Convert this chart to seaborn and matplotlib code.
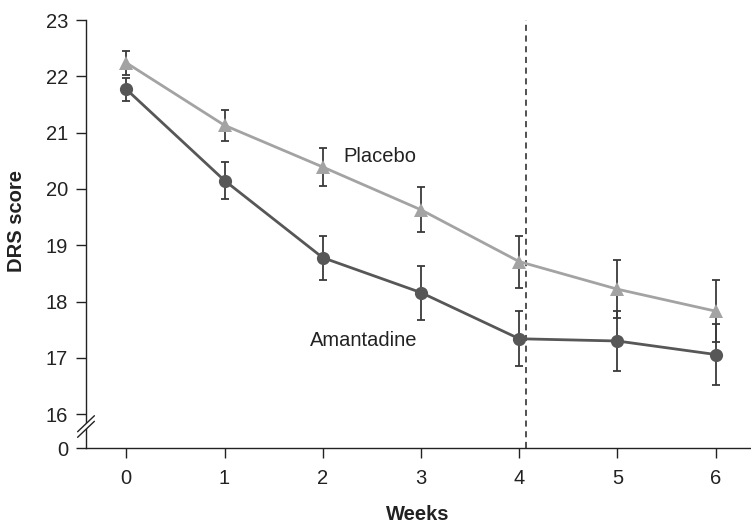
import matplotlib
matplotlib.use("Agg")
import matplotlib.pyplot as plt
import seaborn as sns
import pandas as pd
import numpy as np

weeks = [0, 1, 2, 3, 4, 5, 6]
placebo = [22.24, 21.13, 20.39, 19.63, 18.71, 18.22, 17.83]
placebo_err = [0.21, 0.28, 0.33, 0.40, 0.46, 0.52, 0.55]
amantadine = [21.77, 20.15, 18.78, 18.16, 17.34, 17.30, 17.06]
amantadine_err = [0.20, 0.33, 0.39, 0.48, 0.49, 0.54, 0.55]
y_ticks = [16, 17, 18, 19, 20, 21, 22, 23]
y_break_value = 15.4
y_break_label = "0"
cut_week = 4.07

sns.set_theme(style="ticks")
plt.rcParams['font.family'] = ['Liberation Sans', 'DejaVu Sans']

FS = 14.5

df = pd.DataFrame({
    "Weeks": weeks * 2,
    "DRS": placebo + amantadine,
    "Group": ["Placebo"] * len(weeks) + ["Amantadine"] * len(weeks),
})

fig = plt.figure(figsize=(7.51, 5.23), dpi=100)
ax = fig.add_axes([86 / 751, 1 - 448 / 523, 1 - 86 / 751, (448 - 20) / 523])

colors = {"Placebo": "#a3a3a3", "Amantadine": "#575757"}

ax.errorbar(weeks, amantadine, yerr=amantadine_err, fmt="none", ecolor="#3a3a3a",
            elinewidth=1.3, capsize=3, capthick=1.3, zorder=2)
ax.errorbar(weeks, placebo, yerr=placebo_err, fmt="none", ecolor="#3a3a3a",
            elinewidth=1.3, capsize=3, capthick=1.3, zorder=2)

sns.lineplot(data=df, x="Weeks", y="DRS", hue="Group", style="Group",
             palette=colors, markers={"Placebo": "^", "Amantadine": "o"},
             dashes=False, linewidth=2.0, markersize=9.5, markeredgewidth=0,
             legend=False, ax=ax, zorder=3)

ax.axvline(cut_week, color="#222222", linestyle=(0, (4, 3)), linewidth=1.1, zorder=1)

ax.set_xlim(-0.41, 6.36)
ax.set_ylim(y_break_value, 23)
ax.set_xticks(weeks)
ax.set_xticklabels([str(w) for w in weeks])
ax.set_yticks([y_break_value] + y_ticks)
ax.set_yticklabels([y_break_label] + [str(t) for t in y_ticks])
ax.tick_params(axis="both", direction="out", length=7, width=1.0, color="#222222",
               labelsize=FS, labelcolor="#222222", pad=6)
ax.tick_params(axis="x", pad=8)
ax.set_xlabel("")
ax.set_ylabel("")
for side in ["top", "right"]:
    ax.spines[side].set_visible(False)
for side in ["left", "bottom"]:
    ax.spines[side].set_color("#222222")
    ax.spines[side].set_linewidth(1.0)

# break marks on y axis
trans = ax.transAxes
yb = (15.77 - y_break_value) / (23 - y_break_value)
dy = 8 / 428
dx = 8 / 665
ax.fill([-dx, dx, dx, -dx], [yb - dy - 0.003, yb + dy - 0.003, yb + dy + 0.006, yb - dy + 0.006],
        transform=trans, color="white", clip_on=False, zorder=5)
for off in (-0.005, 0.008):
    ax.plot([-dx * 1.05, dx * 1.05], [yb - dy + off, yb + dy + off], transform=trans,
            color="#222222", linewidth=1.0, clip_on=False, zorder=6)

ax.text(2.58, 20.57, "Placebo", fontsize=FS, color="#222222", ha="center", va="center")
ax.text(2.42, 17.30, "Amantadine", fontsize=FS, color="#222222", ha="center", va="center")

fig.text(17 / 751, 1 - 221 / 523, "DRS score", rotation=90, fontsize=FS, fontweight="bold",
         ha="center", va="center", color="#222222")
fig.text(418 / 751, 1 - 514 / 523, "Weeks", fontsize=FS, fontweight="bold",
         ha="center", va="center", color="#222222")

fig.savefig("out.png", dpi=100)
